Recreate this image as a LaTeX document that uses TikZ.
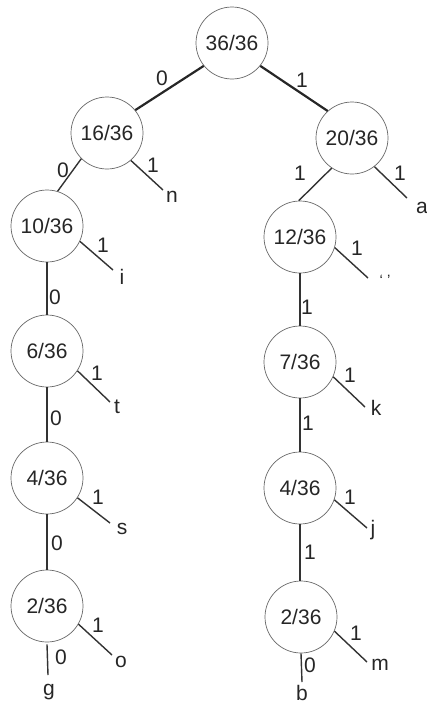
\documentclass[tikz,border=0pt]{standalone}
\usepackage{fontspec}
\setmainfont{Liberation Sans}
\begin{document}
\begin{tikzpicture}[x=1pt,y=-1pt,
  every node/.style={font=\fontsize{21}{23}\selectfont, text=black!85},
  cnode/.style={circle, draw=black!60, line width=0.7pt, minimum size=72pt, inner sep=0pt, fill=white},
  thick edge/.style={draw=black!85, line width=2.2pt},
  edge/.style={draw=black!80, line width=1.4pt},
  lbl/.style={inner sep=0pt},
]
\useasboundingbox (0,0) rectangle (427,704);
% internal nodes
\node[cnode] (r) at (232,43) {36/36};
\node[cnode] (a16) at (107,133) {16/36};
\node[cnode] (a20) at (352,138) {20/36};
\node[cnode] (a10) at (47,226) {10/36};
\node[cnode] (a12) at (300,237) {12/36};
\node[cnode] (a6) at (47,351) {6/36};
\node[cnode] (a7) at (300,362) {7/36};
\node[cnode] (a4L) at (47,478) {4/36};
\node[cnode] (a4R) at (300,488) {4/36};
\node[cnode] (a2L) at (47,606) {2/36};
\node[cnode] (a2R) at (301,617) {2/36};
% leaf line ends
\coordinate (nE) at (163,190);
\coordinate (iE) at (113,270);
\coordinate (tE) at (110,402);
\coordinate (sE) at (110,523);
\coordinate (oE) at (112,655);
\coordinate (gE) at (48,675);
\coordinate (aE) at (407,198);
\coordinate (spE) at (368,278);
\coordinate (kE) at (365,407);
\coordinate (jE) at (367,528);
\coordinate (mE) at (367,662);
\coordinate (bE) at (302,682);
% leaf letters
\node[lbl] (n) at (172,197) {n};
\node[lbl] (i) at (122,277) {i};
\node[lbl] (t) at (117,407) {t};
\node[lbl] (s) at (122,529) {s};
\node[lbl] (o) at (121,662) {o};
\node[lbl] (g) at (49,692) {g};
\node[lbl] (a) at (422,208) {a};
\node[lbl, font=\fontsize{15}{17}\selectfont] (sp) at (385,280) {‘ ’};
\node[lbl] (k) at (376,408) {k};
\node[lbl] (j) at (373,530) {j};
\node[lbl] (m) at (380,665) {m};
\node[lbl] (b) at (302,693) {b};
% edges between circles
\draw[thick edge] (r.219) -- (a16.39);
\draw[thick edge] (r.-39) -- (a20.132);
\draw[edge] (a16.-135) -- (a10.73);
\draw[edge] (a20.-124) -- (a12.92);
\draw[edge] (a10) -- (a6);
\draw[edge] (a6) -- (a4L);
\draw[edge] (a4L) -- (a2L);
\draw[edge] (a12) -- (a7);
\draw[edge] (a7) -- (a4R);
\draw[edge] (a4R.south) -- (a4R.south |- a2R.north);
% leaf edges
\draw[edge] (a16.-49) -- (nE);
\draw[edge] (a10.-25) -- (iE);
\draw[edge] (a6.-33) -- (tE);
\draw[edge] (a4L.-33) -- (sE);
\draw[edge] (a2L.-30) -- (oE);
\draw[edge] ([yshift=-2pt]a2L.south) -- (gE);
\draw[edge] (a20.-52) -- (aE);
\draw[edge] (a12.-17) -- (spE);
\draw[edge] (a7.-24) -- (kE);
\draw[edge] (a4R.-19) -- (jE);
\draw[edge] (a2R.-23) -- (mE);
\draw[edge] (a2R.south) -- (bE);
% labels
\node[lbl] at (162,78) {0};
\node[lbl] at (302,80) {1};
\node[lbl] at (63,170) {0};
\node[lbl] at (300,173) {1};
\node[lbl] at (153,165) {1};
\node[lbl] at (400,173) {1};
\node[lbl] at (103,245) {1};
\node[lbl] at (357,248) {1};
\node[lbl] at (55,297) {0};
\node[lbl] at (307,307) {1};
\node[lbl] at (97,373) {1};
\node[lbl] at (350,375) {1};
\node[lbl] at (56,418) {0};
\node[lbl] at (308,423) {1};
\node[lbl] at (98,497) {1};
\node[lbl] at (350,497) {1};
\node[lbl] at (57,543) {0};
\node[lbl] at (310,552) {1};
\node[lbl] at (98,625) {1};
\node[lbl] at (356,633) {1};
\node[lbl] at (61,657) {0};
\node[lbl] at (310,665) {0};
\end{tikzpicture}
\end{document}
